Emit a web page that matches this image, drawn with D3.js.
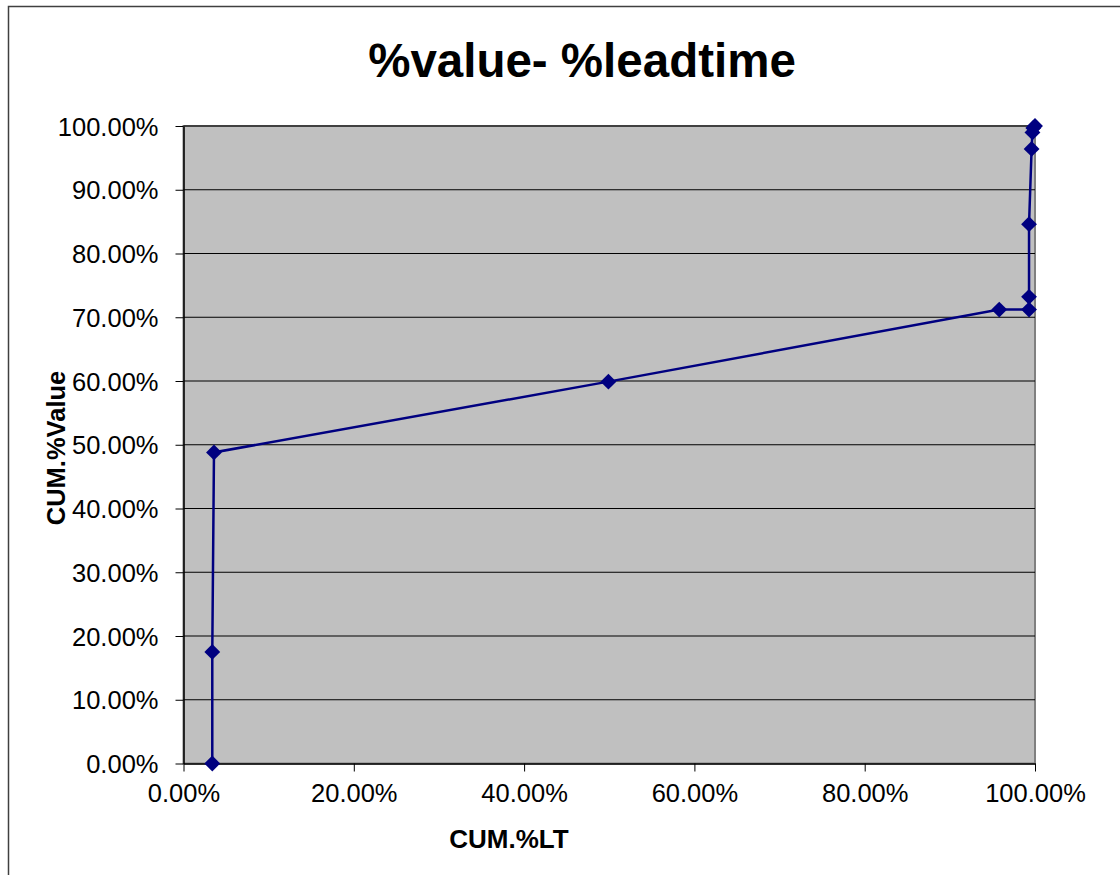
<!DOCTYPE html>
<html>
<head>
<meta charset="utf-8">
<script src="https://cdn.jsdelivr.net/npm/d3@7"></script>
<style>
  html, body { margin: 0; padding: 0; background: #fff; }
  svg { display: block; font-family: "Liberation Sans", Arial, sans-serif; }
</style>
</head>
<body>
<div id="chart"></div>
<script>
// dữ liệu: % lead time tích lũy và % giá trị tích lũy
const cumLT    = [3.38, 3.38, 3.58, 49.9, 95.8, 99.3, 99.3, 99.3, 99.6, 99.7, 99.8, 100];
const cumValue = [0.0, 17.5, 48.8, 59.9, 71.2, 71.2, 73.2, 84.6, 96.4, 99.0, 99.7, 100];
const xTicks = [0, 20, 40, 60, 80, 100];
const yTicks = [0, 10, 20, 30, 40, 50, 60, 70, 80, 90, 100];

const chartTitle = "%value- %leadtime";
const xTitle = "CUM.%LT";
const yTitle = "CUM.%Value";

const W = 1120, H = 875;
const plot = { left: 183.5, top: 126, right: 1035, bottom: 763.5 };
const fmt = d => d3.format(".2f")(d) + "%";

const points = cumLT.map((x, i) => ({ x, y: cumValue[i] }));

const svg = d3.select("#chart").append("svg")
  .attr("width", W)
  .attr("height", H);

// khung ngoài của chart
svg.append("rect")
  .attr("x", 8.5).attr("y", 6.5)
  .attr("width", 1200).attr("height", 1000)
  .attr("fill", "#fff")
  .attr("stroke", "#404040")
  .attr("stroke-width", 1.5);

const x = d3.scaleLinear().domain([0, 100]).range([plot.left, plot.right]);
const y = d3.scaleLinear().domain([0, 100]).range([plot.bottom, plot.top]);

// nền vùng vẽ
svg.append("rect")
  .attr("x", plot.left).attr("y", plot.top)
  .attr("width", plot.right - plot.left)
  .attr("height", plot.bottom - plot.top)
  .attr("fill", "#c0c0c0")
  .attr("stroke", "#808080")
  .attr("stroke-width", 2);

// lưới ngang
svg.append("g")
  .selectAll("line")
  .data(yTicks.filter(d => d > 0))
  .join("line")
    .attr("x1", plot.left).attr("x2", plot.right)
    .attr("y1", d => y(d)).attr("y2", d => y(d))
    .attr("stroke", "#000")
    .attr("stroke-width", 1);

// trục
const yAxis = svg.append("g")
  .attr("transform", `translate(${plot.left},0)`)
  .call(d3.axisLeft(y).tickValues(yTicks).tickFormat(fmt).tickSize(8).tickSizeOuter(0).tickPadding(17));

const xAxis = svg.append("g")
  .attr("transform", `translate(0,${plot.bottom})`)
  .call(d3.axisBottom(x).tickValues(xTicks).tickFormat(fmt).tickSize(8).tickSizeOuter(0).tickPadding(12));

[yAxis, xAxis].forEach(a => {
  a.select(".domain").attr("stroke", "#000").attr("stroke-width", 1.5);
  a.selectAll(".tick line").attr("stroke", "#000");
  a.selectAll("text")
    .attr("fill", "#000")
    .style("font-size", "25.5px")
    .style("font-family", "'Liberation Sans', Arial, sans-serif");
});
yAxis.selectAll("text").attr("dy", "0.36em");
xAxis.selectAll("text").attr("dy", "0.72em");

// đường
svg.append("path")
  .datum(points)
  .attr("fill", "none")
  .attr("stroke", "#000080")
  .attr("stroke-width", 2.5)
  .attr("d", d3.line().x(d => x(d.x)).y(d => y(d.y)));

// marker hình thoi
svg.append("g")
  .selectAll("path")
  .data(points)
  .join("path")
    .attr("transform", d => `translate(${x(d.x)},${y(d.y)})`)
    .attr("d", d3.symbol(d3.symbolDiamond2, 160)())
    .attr("fill", "#000080");

// tiêu đề
svg.append("text")
  .attr("x", 582).attr("y", 77)
  .attr("text-anchor", "middle")
  .style("font-size", "47.5px")
  .style("font-weight", "bold")
  .text(chartTitle);

svg.append("text")
  .attr("x", 509).attr("y", 848)
  .attr("text-anchor", "middle")
  .style("font-size", "26px")
  .style("font-weight", "bold")
  .text(xTitle);

svg.append("text")
  .attr("transform", "translate(65,448) rotate(-90)")
  .attr("text-anchor", "middle")
  .style("font-size", "25.5px")
  .style("font-weight", "bold")
  .text(yTitle);
</script>
</body>
</html>
